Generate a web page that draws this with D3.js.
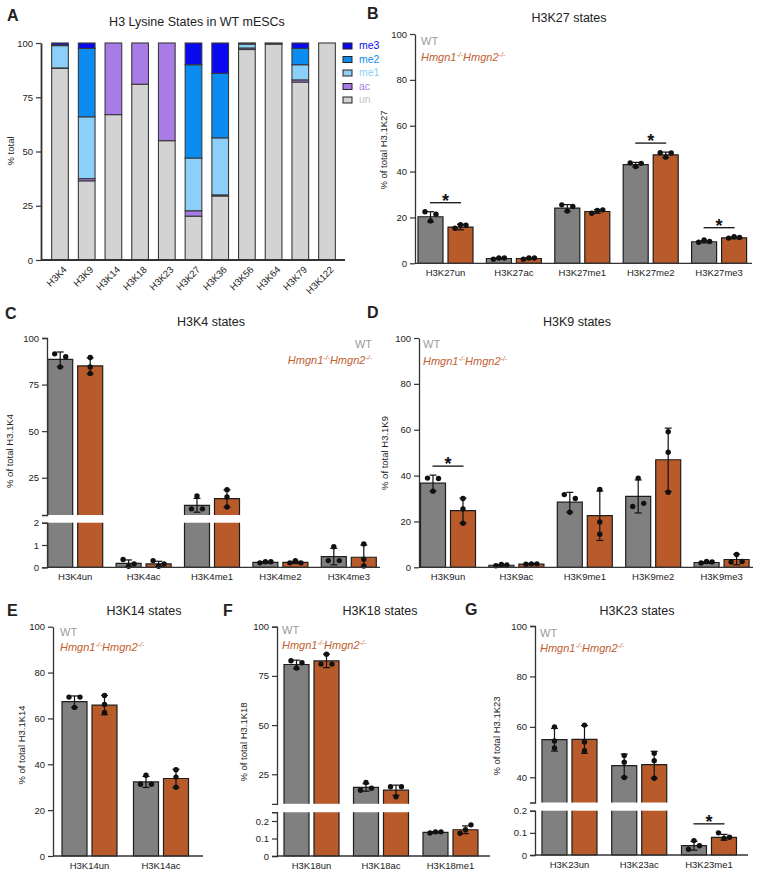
<!DOCTYPE html>
<html>
<head>
<meta charset="utf-8">
<script src="https://cdn.jsdelivr.net/npm/d3@7"></script>
<style>
  body { margin: 0; background: #fff; }
  svg { font-family: "Liberation Sans", Arial, sans-serif; }
</style>
</head>
<body>
<script>
// ---- panel A : H3 lysine states in WT mESCs (stacked %)
const lysines = ["H3K4","H3K9","H3K14","H3K18","H3K23","H3K27","H3K36","H3K56","H3K64","H3K79","H3K122"];
const stUn  = [88.3, 36.5, 67, 81, 55, 20.2, 29.5, 97.0, 99.5, 82.0, 100];
const stAc  = [0.2, 1.0, 33, 19, 45, 2.5, 0.5, 0.7, 0, 1.0, 0];
const stMe1 = [10.3, 28.5, 0, 0, 0, 24.3, 26.3, 1.8, 0, 7.0, 0];
const stMe2 = [0.3, 31.5, 0, 0, 0, 43.0, 29.7, 0.3, 0.3, 7.5, 0];
const stMe3 = [0.9, 2.5, 0, 0, 0, 10.0, 14.0, 0.2, 0.2, 2.5, 0];
const stateKeys = ["un","ac","me1","me2","me3"];

// ---- panel B : H3K27
const k27Cats = ["H3K27un","H3K27ac","H3K27me1","H3K27me2","H3K27me3"];
const k27Wt = [20.3, 2.1, 24.1, 43.0, 9.4];
const k27Ko = [15.8, 2.1, 22.6, 47.3, 11.1];
const k27WtSd = [2.2, 0.3, 1.5, 1.0, 0.5];
const k27KoSd = [1.2, 0.3, 0.8, 1.2, 0.4];
const k27WtPts = [[22.5,18.5,21.4],[1.8,2.3,2.3],[25.5,22.8,24.8],[43.8,42.2,43.6],[9.2,10.2,9.5]];
const k27KoPts = [[15.3,16.8,16.6],[1.8,2.3,2.3],[21.8,23.0,23.3],[48.2,46.3,48.1],[11.0,11.6,11.3]];
const k27Sig = [true,false,false,true,true];

// ---- panel C : H3K4 (broken axis)
const k4Cats = ["H3K4un","H3K4ac","H3K4me1","H3K4me2","H3K4me3"];
const k4Wt = [88.5, 0.18, 10.2, 0.22, 0.48];
const k4Ko = [85.0, 0.15, 13.8, 0.22, 0.45];
const k4WtSd = [4.0, 0.15, 3.7, 0.03, 0.37];
const k4KoSd = [4.3, 0.12, 4.7, 0.05, 0.55];
const k4WtPts = [[91.5,90.0,84.5],[0.35,0.05,0.15],[15.2,8.3,8.3],[0.2,0.25,0.25],[0.92,0.3,0.3]];
const k4KoPts = [[89.5,84.5,81.0],[0.3,0.05,0.15],[18.6,14.7,9.3],[0.2,0.3,0.2],[1.05,0.36,0.06]];
const k4Sig = [false,false,false,false,false];

// ---- panel D : H3K9
const k9Cats = ["H3K9un","H3K9ac","H3K9me1","H3K9me2","H3K9me3"];
const k9Wt = [36.7, 0.9, 28.4, 30.9, 2.1];
const k9Ko = [24.7, 1.4, 22.5, 46.9, 3.4];
const k9WtSd = [3.5, 0.3, 4.3, 7.2, 0.4];
const k9KoSd = [5.5, 0.2, 10.8, 13.8, 2.3];
const k9WtPts = [[38.9,38.7,33.2],[0.7,1.2,1.0],[31.7,30.0,24.0],[38.9,26.5,27.9],[1.9,2.5,2.3]];
const k9KoPts = [[30.0,25.5,19.2],[1.3,1.5,1.5],[33.9,19.8,14.4],[59.1,50.2,32.7],[5.6,2.3,2.5]];
const k9Sig = [true,false,false,false,false];

// ---- panel E : H3K14
const k14Cats = ["H3K14un","H3K14ac"];
const k14Wt = [67.3, 32.3];
const k14Ko = [65.8, 33.8];
const k14WtSd = [2.5, 2.4];
const k14KoSd = [4.2, 4.0];
const k14WtPts = [[69.3,69.3,64.8],[31.3,31.3,35.2]];
const k14KoPts = [[70.0,66.1,62.6],[37.6,34.4,30.0]];
const k14Sig = [false,false];

// ---- panel F : H3K18 (broken axis)
const k18Cats = ["H3K18un","H3K18ac","H3K18me1"];
const k18Wt = [80.8, 18.3, 0.135];
const k18Ko = [82.6, 16.9, 0.15];
const k18WtSd = [2.2, 1.9, 0.004];
const k18KoSd = [3.4, 2.6, 0.022];
const k18WtPts = [[82.7,81.7,79.0],[20.8,16.9,17.9],[0.132,0.138,0.138]];
const k18KoPts = [[86.0,81.0,81.0],[18.7,18.7,13.6],[0.13,0.15,0.178]];
const k18Sig = [false,false,false];

// ---- panel G : H3K23 (broken axis)
const k23Cats = ["H3K23un","H3K23ac","H3K23me1"];
const k23Wt = [54.9, 44.6, 0.042];
const k23Ko = [55.0, 45.0, 0.08];
const k23WtSd = [4.5, 4.6, 0.02];
const k23KoSd = [5.5, 5.3, 0.013];
const k23WtPts = [[60.0,54.4,51.6],[48.6,46.0,39.9],[0.065,0.026,0.042]];
const k23KoPts = [[60.7,54.0,50.5],[49.5,46.6,39.6],[0.1,0.075,0.08]];
const k23Sig = [false,false,true];

const WT_COL = "#808080", KO_COL = "#b95a2b";
const WT_TXT = "#9a9a9a", KO_TXT = "#c0602f";
const stateColor = {un:"#d3d3d3", ac:"#a87be6", me1:"#8ccff8", me2:"#0a8cf0", me3:"#0a0af0"};
const stateText  = {un:"#c4c4c4", ac:"#a87be6", me1:"#8ccff8", me2:"#0a8cf0", me3:"#0a0af0"};

const svg = d3.select("body").append("svg").attr("width", 759).attr("height", 873);

function styleAxis(g) {
  g.select(".domain").attr("stroke", "#333").attr("stroke-width", 1.3);
  g.selectAll(".tick line").attr("stroke", "#333").attr("stroke-width", 1.2);
  g.selectAll(".tick text").attr("fill", "#222").style("font-size", "9.5px");
}

function panelLetter(t, x, y) {
  svg.append("text").attr("x", x).attr("y", y).text(t)
    .style("font-size", "16px").style("font-weight", "bold").attr("fill", "#222");
}
function title(t, x, y) {
  svg.append("text").attr("x", x).attr("y", y).attr("text-anchor", "middle")
    .style("font-size", "12.5px").attr("fill", "#222").text(t);
}
function yLabel(t, x, y) {
  svg.append("text").attr("transform", `translate(${x},${y})rotate(-90)`)
    .attr("text-anchor", "middle").style("font-size", "9.5px").attr("fill", "#222").text(t);
}
function legend(x, y1, y2, anchor) {
  svg.append("text").attr("x", x).attr("y", y1).attr("text-anchor", anchor || "start")
    .style("font-size", "11px").attr("fill", WT_TXT).text("WT");
  const t = svg.append("text").attr("x", x).attr("y", y2).attr("text-anchor", anchor || "start")
    .style("font-size", "11px").style("font-style", "italic").attr("fill", KO_TXT);
  t.append("tspan").text("Hmgn1");
  t.append("tspan").attr("dy", -4).style("font-size", "7px").text("-/-");
  t.append("tspan").attr("dy", 4).text("Hmgn2");
  t.append("tspan").attr("dy", -4).style("font-size", "7px").text("-/-");
}

// ===================== Panel A =====================
{
  const rows = lysines.map((k, i) => ({k, un: stUn[i], ac: stAc[i], me1: stMe1[i], me2: stMe2[i], me3: stMe3[i]}));
  const series = d3.stack().keys(stateKeys)(rows);
  const x = d3.scaleBand().domain(lysines).range([46.65, 340.35]).paddingInner(0.375).paddingOuter(0.1875);
  const y = d3.scaleLinear().domain([0, 100]).range([260, 43]);

  panelLetter("A", 7, 21);
  title("H3 Lysine States in WT mESCs", 197, 26);
  yLabel("% total", 14, 151);

  series.forEach(s => {
    svg.append("g").selectAll("rect")
      .data(s.filter(d => d[1] - d[0] > 0))
      .join("rect")
      .attr("x", d => x(d.data.k))
      .attr("y", d => y(d[1]))
      .attr("width", x.bandwidth())
      .attr("height", d => y(d[0]) - y(d[1]))
      .attr("fill", stateColor[s.key])
      .attr("stroke", "#3a3a3a").attr("stroke-width", 1.1);
  });

  const ay = svg.append("g").attr("transform", "translate(41,0)")
    .call(d3.axisLeft(y).tickValues([0,25,50,75,100]).tickSize(5).tickSizeOuter(0));
  styleAxis(ay);
  ay.select(".domain").attr("stroke-width", 1.8);
  svg.append("line").attr("x1", 41).attr("x2", 345).attr("y1", 260).attr("y2", 260)
    .attr("stroke", "#333").attr("stroke-width", 1.8);
  svg.append("g").selectAll("text").data(lysines).join("text")
    .attr("transform", d => `translate(${x(d) + x.bandwidth()/2 + 5},${268})rotate(-45)`)
    .attr("text-anchor", "end").attr("dy", "0.35em")
    .style("font-size", "9.5px").attr("fill", "#222").text(d => d);

  // legend
  const lg = svg.append("g");
  stateKeys.slice().reverse().forEach((k, i) => {
    const yy = 43 + i * 13.5;
    lg.append("rect").attr("x", 343).attr("y", yy).attr("width", 9).attr("height", 6)
      .attr("fill", stateColor[k]).attr("stroke", "#222").attr("stroke-width", 1);
    lg.append("text").attr("x", 359).attr("y", yy + 6).style("font-size", "10.5px")
      .attr("fill", stateText[k]).text(k);
  });
}

// ===================== grouped panels =====================
function swarm(vals, yf, cx) {
  const items = vals.map((v, i) => ({v, i, py: yf(v)})).sort((a, b) => a.py - b.py);
  const clusters = [];
  let cur = [items[0]];
  for (let k = 1; k < items.length; k++) {
    if (items[k].py - items[k-1].py < 5) cur.push(items[k]);
    else { clusters.push(cur); cur = [items[k]]; }
  }
  clusters.push(cur);
  const out = [];
  clusters.forEach(c => {
    c.sort((a, b) => a.i - b.i);
    const n = c.length;
    c.forEach((it, j) => out.push({x: cx + (n > 1 ? -5.5 + j * 11 / (n - 1) : 0), y: it.py}));
  });
  return out;
}

function groupedPanel(cfg) {
  const n = cfg.cats.length;
  const xo = d3.scaleBand().domain(cfg.cats).range([cfg.x0, cfg.x0 + n * cfg.pitch]);
  const half = cfg.pitch / 2;
  const xi = d3.scaleBand().domain(["WT","KO"]).range([half - 27.5, half + 27.5]).paddingInner(1/6);
  const up = d3.scaleLinear().domain(cfg.upDom).range(cfg.upRange);
  const low = cfg.lowDom ? d3.scaleLinear().domain(cfg.lowDom).range(cfg.lowRange) : null;
  const yv = v => (low && v <= cfg.lowDom[1]) ? low(v) : up(v);
  const y0 = low ? low(0) : up(0);

  const g = svg.append("g");
  const groups = [["WT", cfg.wt, cfg.wtSd, cfg.wtPts, WT_COL], ["KO", cfg.ko, cfg.koSd, cfg.koPts, KO_COL]];

  // bars (open edges where the axis is broken)
  groups.forEach(([key, means, , , col]) => {
    cfg.cats.forEach((c, i) => {
      const bx = xo(c) + xi(key), bw = xi.bandwidth(), m = means[i];
      const segs = [];
      if (low && m > cfg.lowDom[1]) {
        segs.push({t: low(cfg.lowDom[1]), b: low(0), openTop: true});
        segs.push({t: up(m), b: up(cfg.upDom[0]), openBottom: true});
      } else {
        segs.push({t: yv(m), b: y0});
      }
      segs.forEach(s => {
        g.append("rect").attr("x", bx).attr("y", s.t).attr("width", bw).attr("height", s.b - s.t)
          .attr("fill", col);
        const p = d3.path();
        if (s.openTop) { p.moveTo(bx, s.t); p.lineTo(bx, s.b); p.lineTo(bx + bw, s.b); p.lineTo(bx + bw, s.t); }
        else if (s.openBottom) { p.moveTo(bx, s.b); p.lineTo(bx, s.t); p.lineTo(bx + bw, s.t); p.lineTo(bx + bw, s.b); }
        else { p.rect(bx, s.t, bw, s.b - s.t); }
        g.append("path").attr("d", p.toString()).attr("fill", "none")
          .attr("stroke", "#1e1e1e").attr("stroke-width", 1.2);
      });
    });
  });

  // error bars + points
  groups.forEach(([key, means, sds, pts]) => {
    cfg.cats.forEach((c, i) => {
      const cx = xo(c) + xi(key) + xi.bandwidth() / 2, m = means[i], s = sds[i];
      let lo = Math.max(0, m - s), hi = m + s;
      if (low && m > cfg.lowDom[1]) lo = Math.max(lo, cfg.upDom[0]);
      const ylo = yv(lo), yhi = yv(hi);
      g.append("line").attr("x1", cx).attr("x2", cx).attr("y1", ylo).attr("y2", yhi)
        .attr("stroke", "#111").attr("stroke-width", 1.2);
      [ylo, yhi].forEach(yy => g.append("line").attr("x1", cx - 3.5).attr("x2", cx + 3.5)
        .attr("y1", yy).attr("y2", yy).attr("stroke", "#111").attr("stroke-width", 1.2));
      g.append("g").selectAll("circle").data(swarm(pts[i], yv, cx)).join("circle")
        .attr("cx", d => d.x).attr("cy", d => d.y).attr("r", 2.7).attr("fill", "#111");
    });
  });

  // significance
  cfg.cats.forEach((c, i) => {
    if (!cfg.sig[i]) return;
    const top = Math.min(
      yv(cfg.wt[i] + cfg.wtSd[i]), yv(cfg.ko[i] + cfg.koSd[i]),
      ...cfg.wtPts[i].map(yv), ...cfg.koPts[i].map(yv));
    const ly = top - 9, cx = xo(c) + half;
    g.append("line").attr("x1", cx - 15.5).attr("x2", cx + 15.5).attr("y1", ly).attr("y2", ly)
      .attr("stroke", "#111").attr("stroke-width", 1.3);
    g.append("text").attr("x", cx).attr("y", ly + 4).attr("text-anchor", "middle")
      .style("font-size", "18px").style("font-weight", "bold").attr("fill", "#111").text("*");
  });

  // axes
  const fmt = d3.format("~g");
  const ay = svg.append("g").attr("transform", `translate(${cfg.axisX},0)`)
    .call(d3.axisLeft(up).tickValues(cfg.upTicks).tickFormat(fmt).tickSize(5).tickSizeOuter(low ? 5 : 0));
  styleAxis(ay);
  if (low) {
    const al = svg.append("g").attr("transform", `translate(${cfg.axisX},0)`)
      .call(d3.axisLeft(low).tickValues(cfg.lowTicks).tickFormat(fmt).tickSize(5).tickSizeOuter(5));
    styleAxis(al);
  }
  svg.append("line").attr("x1", cfg.axisX).attr("x2", cfg.axisEnd).attr("y1", y0).attr("y2", y0)
    .attr("stroke", "#333").attr("stroke-width", 1.3);
  svg.append("g").selectAll("text").data(cfg.cats).join("text")
    .attr("x", d => xo(d) + half).attr("y", y0 + 13).attr("text-anchor", "middle")
    .style("font-size", "9.5px").attr("fill", "#222").text(d => d);
}

// B
panelLetter("B", 367, 19);
title("H3K27 states", 569, 22);
yLabel("% of total H3.1K27", 387, 150);
groupedPanel({cats: k27Cats, wt: k27Wt, ko: k27Ko, wtSd: k27WtSd, koSd: k27KoSd, wtPts: k27WtPts, koPts: k27KoPts, sig: k27Sig,
  x0: 411.3, pitch: 68.4, axisX: 415, axisEnd: 752,
  upDom: [0, 100], upRange: [263.3, 34], upTicks: [0,20,40,60,80,100]});
legend(421, 45, 61);

// C
panelLetter("C", 5, 319);
title("H3K4 states", 211, 326);
yLabel("% of total H3.1K4", 13, 451);
groupedPanel({cats: k4Cats, wt: k4Wt, ko: k4Ko, wtSd: k4WtSd, koSd: k4KoSd, wtPts: k4WtPts, koPts: k4KoPts, sig: k4Sig,
  x0: 41, pitch: 68.4, axisX: 47, axisEnd: 380,
  upDom: [5, 100], upRange: [515, 338], upTicks: [25,50,75,100],
  lowDom: [0, 2], lowRange: [567.3, 522.7], lowTicks: [0,1,2]});
legend(372, 348, 364, "end");

// D
panelLetter("D", 367, 318);
title("H3K9 states", 577, 326);
yLabel("% of total H3.1K9", 388, 453);
groupedPanel({cats: k9Cats, wt: k9Wt, ko: k9Ko, wtSd: k9WtSd, koSd: k9KoSd, wtPts: k9WtPts, koPts: k9KoPts, sig: k9Sig,
  x0: 413.8, pitch: 68.4, axisX: 419, axisEnd: 753,
  upDom: [0, 100], upRange: [567.3, 338], upTicks: [0,20,40,60,80,100]});
legend(423, 348, 365);

// E
panelLetter("E", 7, 616);
title("H3K14 states", 144, 615);
yLabel("% of total H3.1K14", 25, 745);
groupedPanel({cats: k14Cats, wt: k14Wt, ko: k14Ko, wtSd: k14WtSd, koSd: k14KoSd, wtPts: k14WtPts, koPts: k14KoPts, sig: k14Sig,
  x0: 53.75, pitch: 71.5, axisX: 53, axisEnd: 203,
  upDom: [0, 100], upRange: [856, 626.7], upTicks: [0,20,40,60,80,100]});
legend(60, 636, 651);

// F
panelLetter("F", 223, 616);
title("H3K18 states", 380, 615);
yLabel("% of total H3.1K18", 247, 742);
groupedPanel({cats: k18Cats, wt: k18Wt, ko: k18Ko, wtSd: k18WtSd, koSd: k18KoSd, wtPts: k18WtPts, koPts: k18KoPts, sig: k18Sig,
  x0: 276.75, pitch: 69.5, axisX: 277, axisEnd: 490,
  upDom: [10, 100], upRange: [803.8, 626.7], upTicks: [25,50,75,100],
  lowDom: [0, 0.25], lowRange: [856, 812.25], lowTicks: [0,0.1,0.2]});
legend(282, 634, 649);

// G
panelLetter("G", 465, 615);
title("H3K23 states", 637, 615);
yLabel("% of total H3.1K23", 500, 736);
groupedPanel({cats: k23Cats, wt: k23Wt, ko: k23Ko, wtSd: k23WtSd, koSd: k23KoSd, wtPts: k23WtPts, koPts: k23KoPts, sig: k23Sig,
  x0: 534.6, pitch: 69.75, axisX: 535, axisEnd: 748,
  upDom: [30, 100], upRange: [802.5, 626], upTicks: [40,60,80,100],
  lowDom: [0, 0.2], lowRange: [855, 810.7], lowTicks: [0,0.1,0.2]});
legend(540, 637, 652);
</script>
</body>
</html>
